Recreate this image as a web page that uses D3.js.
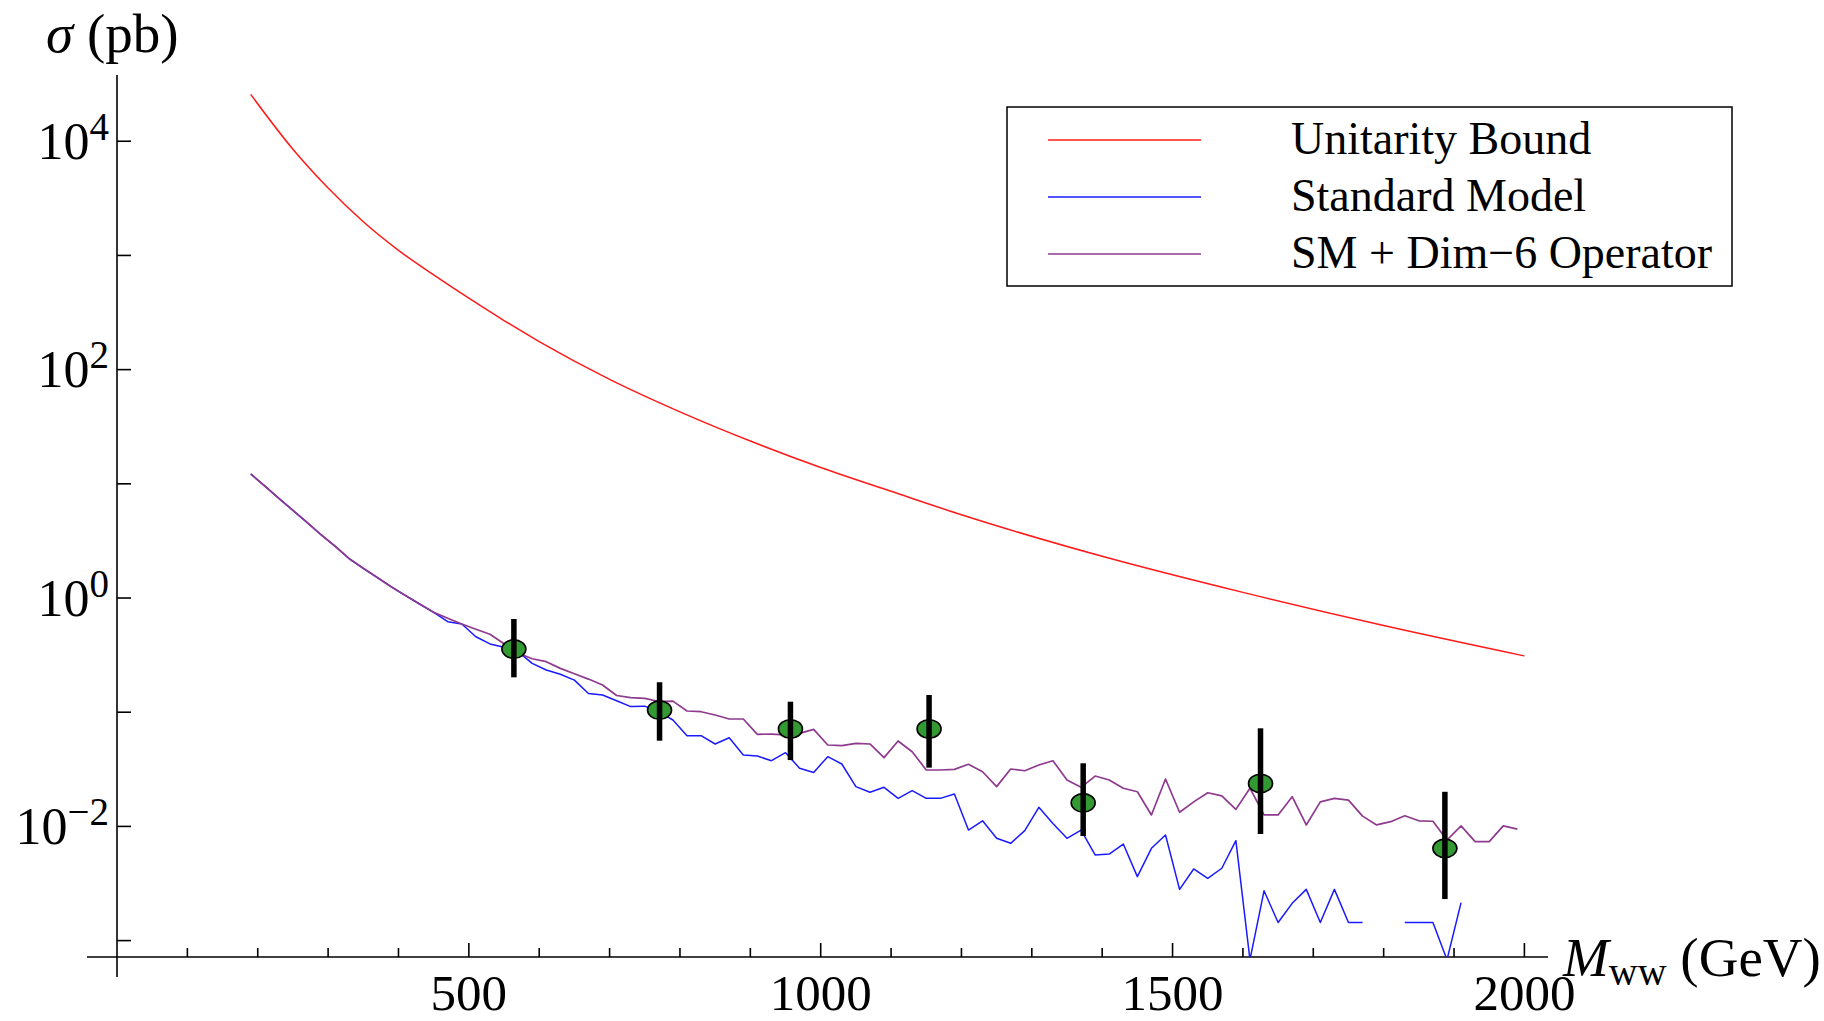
<!DOCTYPE html>
<html>
<head>
<meta charset="utf-8">
<script src="https://cdn.jsdelivr.net/npm/d3@7"></script>
<style>
	body { margin: 0; background: #fff; }
	text { font-family: "Liberation Serif", "Times New Roman", serif; fill: #000; }
</style>
</head>
<body>
<div id="chart"></div>
<script>
// invariant mass bins (GeV), 20 GeV wide, centres 190 ... 1990
var massBins = d3.range(190, 2000, 20);

// SM + dim-6 operator (pb)
var dim6Sigma = [12.2, 9.57, 7.46, 5.86, 4.60, 3.58, 2.84, 2.21, 1.82, 1.51,
	1.25, 1.05, 0.886, 0.749, 0.664, 0.592, 0.532, 0.481, 0.398, 0.330,
	0.294, 0.277, 0.242, 0.217, 0.195, 0.173, 0.140, 0.134, 0.132, 0.124,
	0.125, 0.1025, 0.101, 0.0945, 0.0872, 0.0872, 0.0640, 0.0644, 0.0632, 0.0653,
	0.0708, 0.0516, 0.0509, 0.0534, 0.0527, 0.0400, 0.0560, 0.0451, 0.0312, 0.0312,
	0.0316, 0.0350, 0.0301, 0.0223, 0.0318, 0.0307, 0.0345, 0.0376, 0.0255, 0.0220,
	0.0276, 0.0255, 0.0216, 0.0201, 0.0126, 0.0260, 0.0133, 0.0164, 0.0197, 0.0185,
	0.0141, 0.0216, 0.0126, 0.0126, 0.0182, 0.0103, 0.0164, 0.0176, 0.0170, 0.0123,
	0.0103, 0.0110, 0.0124, 0.0112, 0.0111, 0.0076, 0.0101, 0.00735, 0.00735, 0.0101,
	0.00948
];

// Standard Model (pb); null = empty bin
var smSigma = [12.2, 9.57, 7.46, 5.86, 4.60, 3.58, 2.84, 2.21, 1.82, 1.51,
	1.25, 1.05, 0.886, 0.749, 0.621, 0.592, 0.458, 0.396, 0.370, 0.339,
	0.268, 0.234, 0.215, 0.191, 0.146, 0.1415, 0.126, 0.112, 0.113, 0.101,
	0.0855, 0.0623, 0.0623, 0.0527, 0.0598, 0.0422, 0.0413, 0.0376, 0.0442, 0.0323,
	0.0297, 0.0408, 0.0352, 0.0223, 0.0199, 0.0220, 0.0176, 0.0206, 0.0176, 0.0176,
	0.0192, 0.00929, 0.0112, 0.00787, 0.00711, 0.00918, 0.0147, 0.0106, 0.00787, 0.00929,
	0.00562, 0.00573, 0.00701, 0.00363, 0.00643, 0.00841, 0.00281, 0.00424, 0.00351, 0.00430,
	0.00750, 0.00068, 0.00273, 0.00144, 0.00212, 0.00281, 0.00144, 0.00281, 0.00144, 0.00144,
	null, null, 0.00144, 0.00144, 0.00144, 0.00068, 0.00215, null, null, null,
	null
];

// unitarity bound (pb)
var boundMass = [190, 250, 300, 350, 400, 450, 500, 550, 600, 700, 800, 900, 1000, 1100, 1200, 1400, 1600, 1800, 2000];
var boundSigma = [25700, 8510, 3890, 1970, 1107, 676, 422, 269, 176, 82.2, 42.7, 23.7, 13.9, 8.6, 5.36, 2.32, 1.12, 0.574, 0.311];

// pseudo-data points with error bars
var dataMass = [564, 771, 957, 1154, 1373, 1625, 1887];
var dataSigma = [0.357, 0.1045, 0.0713, 0.0713, 0.0161, 0.0238, 0.00643];
var dataLow = [0.202, 0.0563, 0.0381, 0.0327, 0.00824, 0.00858, 0.00231];
var dataHigh = [0.655, 0.183, 0.1236, 0.1415, 0.0357, 0.0723, 0.0201];

var yTickExp = [-3, -2, -1, 0, 1, 2, 3, 4];
var xMajor = [500, 1000, 1500, 2000];

var legendItems = [
	{ label: "Unitarity Bound", color: "#ff1a1a" },
	{ label: "Standard Model", color: "#1a1aff" },
	{ label: "SM + Dim\u22126 Operator", color: "#8e3a8e" }
];

drawChart();

function drawChart() {
	const W = 1824, H = 1021;
	const x0 = 117, xAxisY = 957, yTop = 75;

	const svg = d3.select("#chart").append("svg")
		.attr("width", W)
		.attr("height", H);

	const xScale = d3.scaleLinear()
		.domain([0, 2000])
		.range([x0, 1524.4]);

	const yScale = d3.scaleLog()
		.domain([Math.pow(10, -3.1436), Math.pow(10, 4.58)])
		.range([xAxisY, yTop]);

	svg.append("clipPath")
		.attr("id", "plotclip")
		.append("rect")
		.attr("x", x0)
		.attr("y", 40)
		.attr("width", 1548 - x0)
		.attr("height", xAxisY - 40);

	// axes
	const axes = svg.append("g").attr("stroke", "#000").attr("stroke-width", 1.6);
	axes.append("line").attr("x1", 87).attr("x2", 1548).attr("y1", xAxisY).attr("y2", xAxisY);
	axes.append("line").attr("x1", x0).attr("x2", x0).attr("y1", yTop).attr("y2", 977);

	// x ticks every 100 GeV
	d3.range(100, 2001, 100).forEach(function(m) {
		var major = m % 500 == 0;
		axes.append("line")
			.attr("x1", xScale(m)).attr("x2", xScale(m))
			.attr("y1", xAxisY).attr("y2", xAxisY - (major ? 14 : 9));
	});
	svg.selectAll(".xlab")
		.data(xMajor)
		.enter()
		.append("text")
		.attr("class", "xlab")
		.attr("x", d => xScale(d))
		.attr("y", 1010)
		.attr("text-anchor", "middle")
		.style("font-size", "51px")
		.text(d => d);

	// y ticks each decade, labels on even powers
	yTickExp.forEach(function(e) {
		var y = yScale(Math.pow(10, e));
		axes.append("line")
			.attr("x1", x0).attr("x2", x0 + 14)
			.attr("y1", y).attr("y2", y);
		if (e % 2 == 0) {
			var t = svg.append("text")
				.attr("x", 109)
				.attr("y", y + 17.5)
				.attr("text-anchor", "end")
				.style("font-size", "52px");
			t.append("tspan").text("10");
			t.append("tspan")
				.attr("dy", -19)
				.style("font-size", "39px")
				.text(e < 0 ? "\u2212" + (-e) : e);
		}
	});

	// axis titles
	var yt = svg.append("text").attr("x", 46).attr("y", 52).style("font-size", "55px");
	yt.append("tspan").style("font-style", "italic").text("\u03c3");
	yt.append("tspan").text(" (pb)");

	var xt = svg.append("text").attr("x", 1563).attr("y", 976).style("font-size", "55px");
	xt.append("tspan").style("font-style", "italic").text("M");
	xt.append("tspan").attr("dy", 9).style("font-size", "40px").text("ww");
	xt.append("tspan").attr("dy", -9).text(" (GeV)");

	// curves
	const plot = svg.append("g").attr("clip-path", "url(#plotclip)");

	const line = d3.line()
		.defined(d => d[1] != null)
		.x(d => xScale(d[0]))
		.y(d => yScale(d[1]));

	plot.append("path")
		.datum(boundMass.map((m, i) => [m, boundSigma[i]]))
		.attr("fill", "none")
		.attr("stroke", legendItems[0].color)
		.attr("stroke-width", 1.5)
		.attr("d", line.curve(d3.curveMonotoneX));

	line.curve(d3.curveLinear);

	plot.append("path")
		.datum(massBins.map((m, i) => [m, smSigma[i]]))
		.attr("fill", "none")
		.attr("stroke", legendItems[1].color)
		.attr("stroke-width", 1.5)
		.attr("stroke-linejoin", "round")
		.attr("d", line);

	plot.append("path")
		.datum(massBins.map((m, i) => [m, dim6Sigma[i]]))
		.attr("fill", "none")
		.attr("stroke", legendItems[2].color)
		.attr("stroke-width", 1.7)
		.attr("stroke-linejoin", "round")
		.attr("d", line);

	// data points: ellipse then bar on top
	const pts = svg.selectAll(".pt")
		.data(dataMass.map((m, i) => ({ m: m, s: dataSigma[i], lo: dataLow[i], hi: dataHigh[i] })))
		.enter()
		.append("g")
		.attr("class", "pt");

	pts.append("ellipse")
		.attr("cx", d => xScale(d.m))
		.attr("cy", d => yScale(d.s))
		.attr("rx", 12)
		.attr("ry", 9.2)
		.attr("fill", "#339933")
		.attr("stroke", "#000")
		.attr("stroke-width", 1.6);

	pts.append("line")
		.attr("x1", d => xScale(d.m))
		.attr("x2", d => xScale(d.m))
		.attr("y1", d => yScale(d.hi))
		.attr("y2", d => yScale(d.lo))
		.attr("stroke", "#000")
		.attr("stroke-width", 5.5);

	// legend
	const legend = svg.append("g");
	legend.append("rect")
		.attr("x", 1007).attr("y", 107)
		.attr("width", 725).attr("height", 179)
		.attr("fill", "#fff")
		.attr("stroke", "#000")
		.attr("stroke-width", 1.5);

	legendItems.forEach(function(item, i) {
		var y = 140 + i * 57;
		legend.append("line")
			.attr("x1", 1048).attr("x2", 1201)
			.attr("y1", y).attr("y2", y)
			.attr("stroke", item.color)
			.attr("stroke-width", 1.7);
		legend.append("text")
			.attr("x", 1291)
			.attr("y", y + 14)
			.style("font-size", "46px")
			.text(item.label);
	});
}
</script>
</body>
</html>
